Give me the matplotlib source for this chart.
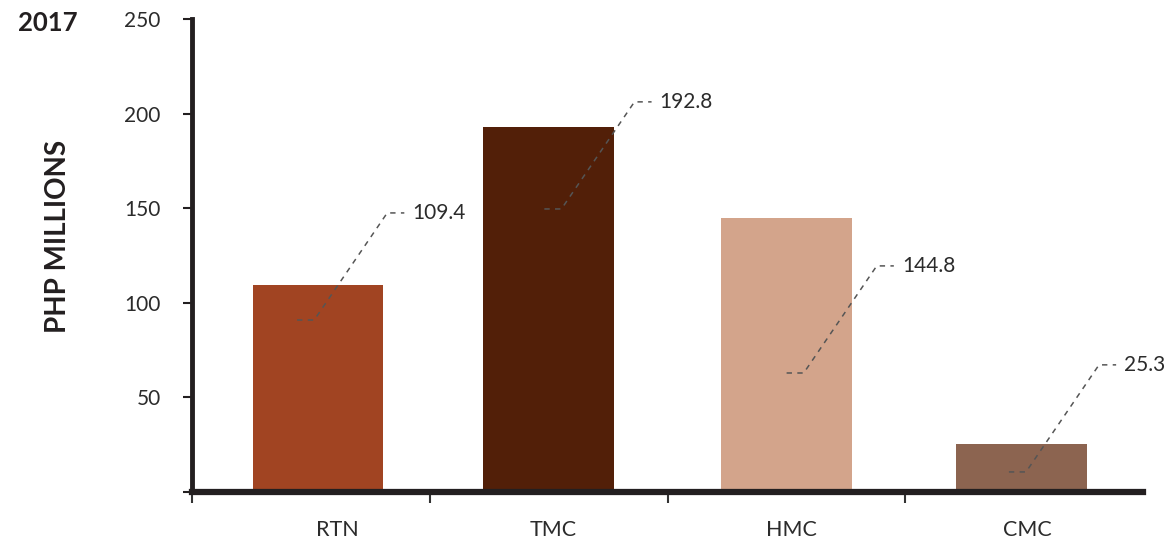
import matplotlib
matplotlib.use("Agg")
import matplotlib.pyplot as plt

# Segment revenue, 2017 (PHP millions)
segments = ["RTN", "TMC", "HMC", "CMC"]
revenue = [109.4, 192.8, 144.8, 25.3]
value_labels = ["109.4", "192.8", "144.8", "25.3"]
bar_colors = ["#A14422", "#521F08", "#D3A48B", "#8C6450"]
y_ticks = [0, 50, 100, 150, 200, 250]
y_tick_labels = ["", "50", "100", "150", "200", "250"]

# layout: bar shift, label shift and leader start (x offset, y) per segment
bar_shift = [0.03, 0.0, 0.0, -0.01]
label_shift = [0.11, 0.02, 0.02, 0.015]
leader_start = [(-0.058, 90.9), (-0.018, 149.6), (0.001, 62.9), (-0.064, 10.6)]

plt.rcParams["font.family"] = ["Lato", "DejaVu Sans"]
ink = "#231F20"

fig = plt.figure(figsize=(11.69, 5.44), dpi=100)
ax = fig.add_axes([192 / 1169, 1 - 492 / 544, (1143 - 192) / 1169, (492 - 19) / 544])

for i, (v, c) in enumerate(zip(revenue, bar_colors)):
    ax.bar(i + bar_shift[i], v, width=0.55, color=c, zorder=2)

# dashed leader lines: short run, diagonal climb, short run, then the value
for i, (dx, y0) in enumerate(leader_start):
    x0 = i + dx
    xs = [x0, x0 + 0.072, x0 + 0.379, x0 + 0.451]
    ys = [y0, y0, y0 + 56.6, y0 + 56.6]
    ax.plot(xs, ys, color="#555555", lw=1.1, ls=(0, (3.5, 3.5)), zorder=3,
            clip_on=False)
    ax.text(x0 + 0.485, y0 + 56.6, value_labels[i], fontsize=15, color="#2B2B2B",
            va="center", ha="left")

for i, s in enumerate(segments):
    ax.text(i + label_shift[i], -20, s, fontsize=15.5, color="#2B2B2B",
            ha="center", va="center")

ax.set_xlim(-0.5, 3.5)
ax.set_ylim(0, 250)
ax.set_yticks(y_ticks)
ax.set_yticklabels(y_tick_labels)
ax.set_xticks([-0.5, 0.5, 1.5, 2.5])
ax.set_xticklabels([])

for side in ("top", "right"):
    ax.spines[side].set_visible(False)
ax.spines["left"].set_linewidth(3.5)
ax.spines["bottom"].set_linewidth(4.5)
ax.spines["left"].set_color(ink)
ax.spines["bottom"].set_color(ink)
ax.spines["left"].set_capstyle("projecting")
ax.spines["bottom"].set_capstyle("projecting")

ax.tick_params(axis="y", length=6.5, width=1.5, color=ink, pad=16,
               labelsize=15, labelcolor="#2B2B2B")
ax.tick_params(axis="x", length=8, width=1.5, color="#333333", direction="out")

fig.text(18 / 1169, 1 - 31 / 544, "2017", fontsize=18.5, fontweight="bold",
         color=ink, ha="left", va="baseline")
fig.text(58 / 1169, 1 - 236 / 544, "PHP MILLIONS", fontsize=20, fontweight="bold",
         color=ink, rotation=90, ha="center", va="center")

fig.savefig("out.png", dpi=100)
